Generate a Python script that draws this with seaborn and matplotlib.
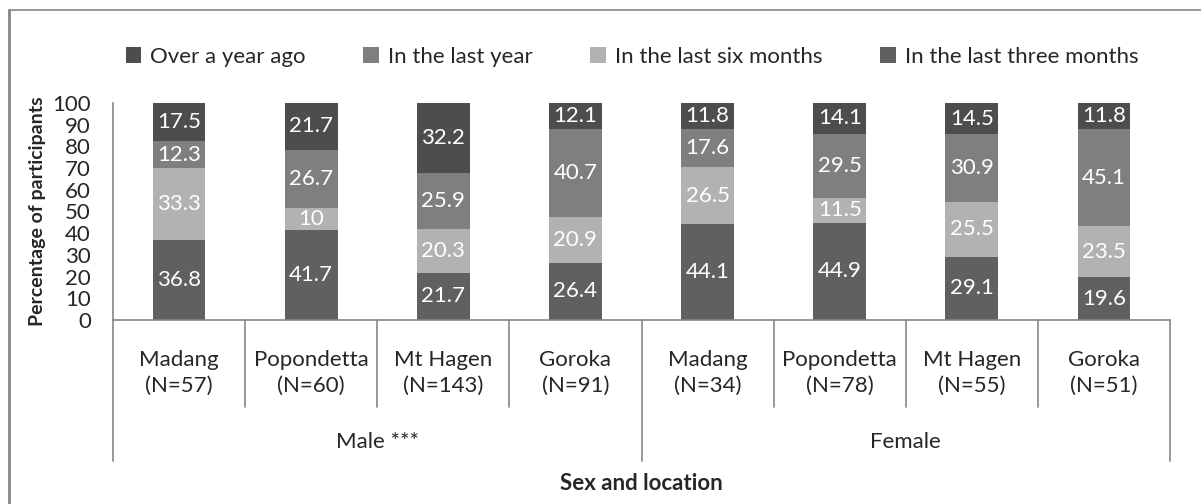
import matplotlib
matplotlib.use("Agg")
import matplotlib.pyplot as plt
import seaborn as sns
import pandas as pd
from matplotlib.lines import Line2D
from matplotlib.patches import Patch

# data (bottom to top of each stack)
locations = ["Madang\n(N=57)", "Popondetta\n(N=60)", "Mt Hagen\n(N=143)", "Goroka\n(N=91)",
             "Madang\n(N=34)", "Popondetta\n(N=78)", "Mt Hagen\n(N=55)", "Goroka\n(N=51)"]
sexes = ["Male ***", "Female"]
three_months = [36.8, 41.7, 21.7, 26.4, 44.1, 44.9, 29.1, 19.6]
six_months = [33.3, 10, 20.3, 20.9, 26.5, 11.5, 25.5, 23.5]
last_year = [12.3, 26.7, 25.9, 40.7, 17.6, 29.5, 30.9, 45.1]
over_year = [17.5, 21.7, 32.2, 12.1, 11.8, 14.1, 14.5, 11.8]

series = [
    ("In the last three months", three_months, "#606060"),
    ("In the last six months", six_months, "#b2b2b2"),
    ("In the last year", last_year, "#7f7f7f"),
    ("Over a year ago", over_year, "#4d4d4d"),
]
legend_order = ["Over a year ago", "In the last year", "In the last six months", "In the last three months"]

sns.set_theme(style="white")
plt.rcParams["font.family"] = ["Lato", "DejaVu Sans"]
FS = 16
GRAY = "#868686"

W, H = 1201, 504
fig = plt.figure(figsize=(W / 100, H / 100), dpi=100)
ax = fig.add_axes([113 / W, (H - 320) / H, (1170 - 113) / W, (320 - 103) / H])

bottom = [0.0] * len(locations)
for name, vals, col in series:
    df = pd.DataFrame({"loc": locations, "val": vals})
    sns.barplot(data=df, x="loc", y="val", order=locations, color=col, width=0.4,
                bottom=bottom, errorbar=None, saturation=1, linewidth=0,
                edgecolor="none", ax=ax)
    ax.bar_label(ax.containers[-1], labels=[f"{v:g}" for v in vals], label_type="center",
                 color="white", fontsize=FS)
    bottom = [b + v for b, v in zip(bottom, vals)]

ax.set_ylim(0, 100)
ax.set_xlim(-0.5, len(locations) - 0.5)
ax.set_yticks(range(0, 101, 10))
ax.tick_params(axis="y", direction="out", length=5, width=1, color=GRAY, labelsize=FS, pad=11)
ax.set_xticks([])
ax.set_xlabel("")
ax.set_ylabel("")
for s in ["top", "right"]:
    ax.spines[s].set_visible(False)
for s in ["left", "bottom"]:
    ax.spines[s].set_color(GRAY)
    ax.spines[s].set_linewidth(1.2)

# category labels and separators under the axis
tr = ax.get_xaxis_transform()
ph = 320 - 103
for i, lab in enumerate(locations):
    ax.text(i, (320 - 373) / ph, lab, transform=tr, ha="center", va="center",
            fontsize=FS, linespacing=1.4)
for i in range(len(locations) + 1):
    low = 461 if i % 4 == 0 else 407
    ax.plot([i - 0.5, i - 0.5], [0, (320 - low) / ph], transform=tr, color=GRAY,
            lw=1.2, clip_on=False)
for j, sx in enumerate(sexes):
    ax.text(1.5 + 4 * j, (320 - 442) / ph, sx, transform=tr, ha="center", va="center", fontsize=FS)

ax.text(0.5, (320 - 484) / ph, "Sex and location", transform=ax.transAxes, ha="center",
        va="center", fontsize=FS, fontweight="bold")
fig.text(38 / W, 1 - 211 / H, "Percentage of participants", rotation=90, ha="center",
         va="center", fontsize=14, fontweight="bold")

colors = {n: c for n, _, c in series}
handles = [Patch(facecolor=colors[n], edgecolor="none", label=n) for n in legend_order]
fig.legend(handles=handles, loc="center", bbox_to_anchor=(632 / W, 1 - 57 / H), ncol=4,
           frameon=False, fontsize=FS, handlelength=0.7, handleheight=0.7,
           handletextpad=0.4, columnspacing=2.6)

# outer chart frame (left and top visible)
fig.add_artist(Line2D([9 / W, 9 / W], [0, 1 - 10 / H], color=GRAY, lw=2))
fig.add_artist(Line2D([9 / W, 1], [1 - 10 / H, 1 - 10 / H], color=GRAY, lw=1.2))

fig.savefig("out.png", dpi=100)
